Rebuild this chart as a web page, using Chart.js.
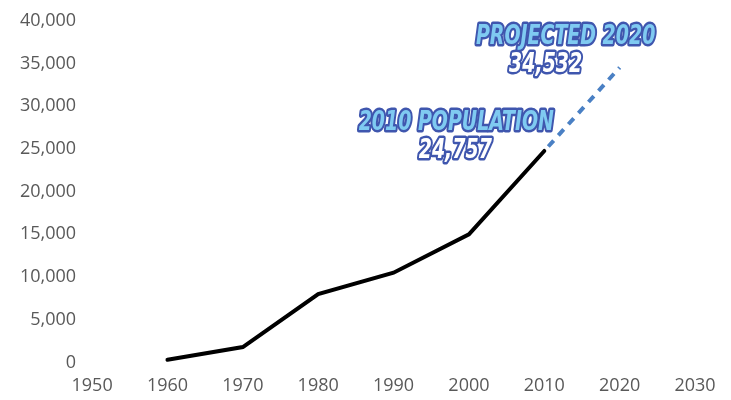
<!DOCTYPE html>
<html>
<head>
<meta charset="utf-8">
<script src="https://cdn.jsdelivr.net/npm/chart.js@4.4.1/dist/chart.umd.min.js"></script>
<style>
  html, body { margin: 0; padding: 0; background: #fff; overflow: hidden; }
  #wrap { width: 731px; height: 400px; position: relative; overflow: hidden; }
  #popChart { position: absolute; left: 0; top: -6px; }
</style>
</head>
<body>
<div id="wrap"><canvas id="popChart" width="731" height="406"></canvas></div>
<script>
// census years and counts
const years = [1960, 1970, 1980, 1990, 2000, 2010];
const population = [300, 1800, 8000, 10500, 15000, 24757];
const projYears = [2010, 2020];
const projected = [24757, 34532];
const xTicks = [1950, 1960, 1970, 1980, 1990, 2000, 2010, 2020, 2030];
const yTicks = [0, 5000, 10000, 15000, 20000, 25000, 30000, 35000, 40000];
const callouts = [
  { year: 2010, value: 24757, title: '2010 POPULATION', num: '24,757', dx: -88, dy: -28, numDx: -1 },
  { year: 2020, value: 34532, title: 'PROJECTED 2020', num: '34,532', dx: -54, dy: -31, numDx: -20 }
];

const fmt = v => v.toLocaleString('en-US');

// outlined labels anchored on the data points
const calloutPlugin = {
  id: 'callouts',
  afterDatasetsDraw(chart) {
    const c = chart.ctx;
    const xs = chart.scales.x, ys = chart.scales.y;
    c.save();
    c.textAlign = 'center';
    c.textBaseline = 'middle';
    c.lineJoin = 'round';
    callouts.forEach(o => {
      const px = xs.getPixelForValue(o.year) + o.dx;
      const py = ys.getPixelForValue(o.value) + o.dy;
      c.font = 'italic bold 27px "Liberation Sans Narrow", "DejaVu Sans Condensed", sans-serif';
      c.lineWidth = 5;
      c.strokeStyle = '#3f56ae';
      c.fillStyle = '#7fcaf1';
      drawSquished(c, o.title, px, py);
      c.fillStyle = '#ffffff';
      drawSquished(c, o.num, px + o.numDx, py + 28);
    });
    c.restore();
  }
};

function drawSquished(c, text, x, y) {
  c.save();
  c.translate(x, y);
  c.scale(0.78, 1);
  c.strokeText(text, 0, 0);
  c.fillText(text, 0, 0);
  c.restore();
}

const ctx = document.getElementById('popChart').getContext('2d');
new Chart(ctx, {
  type: 'line',
  data: {
    datasets: [{
      label: 'Population',
      data: years.map((y, i) => ({ x: y, y: population[i] })),
      borderColor: '#000',
      borderWidth: 4,
      pointRadius: 0,
      tension: 0,
      borderCapStyle: 'round'
    }, {
      label: 'Projected',
      data: projYears.map((y, i) => ({ x: y, y: projected[i] })),
      borderColor: '#4a80c4',
      borderWidth: 4,
      borderDash: [8, 7],
      borderDashOffset: -6,
      pointRadius: 0,
      tension: 0
    }]
  },
  options: {
    responsive: false,
    animation: false,
    layout: { padding: { top: 0, right: 36, left: 4, bottom: -10 } },
    plugins: { legend: { display: false }, tooltip: { enabled: false } },
    scales: {
      x: {
        type: 'linear',
        min: 1950, max: 2030,
        afterBuildTicks: s => { s.ticks = xTicks.map(v => ({ value: v })); },
        grid: { display: false, drawTicks: false },
        border: { display: false },
        ticks: {
          color: '#595959',
          padding: 13,
          font: { family: '"Open Sans", sans-serif', size: 18 },
          callback: v => String(v)
        }
      },
      y: {
        min: 0, max: 40000,
        afterBuildTicks: s => { s.ticks = yTicks.map(v => ({ value: v })); },
        grid: { display: false, drawTicks: false },
        border: { display: false },
        ticks: {
          color: '#595959',
          padding: 16,
          font: { family: '"Open Sans", sans-serif', size: 18 },
          callback: v => fmt(v)
        }
      }
    }
  },
  plugins: [calloutPlugin]
});
</script>
</body>
</html>
